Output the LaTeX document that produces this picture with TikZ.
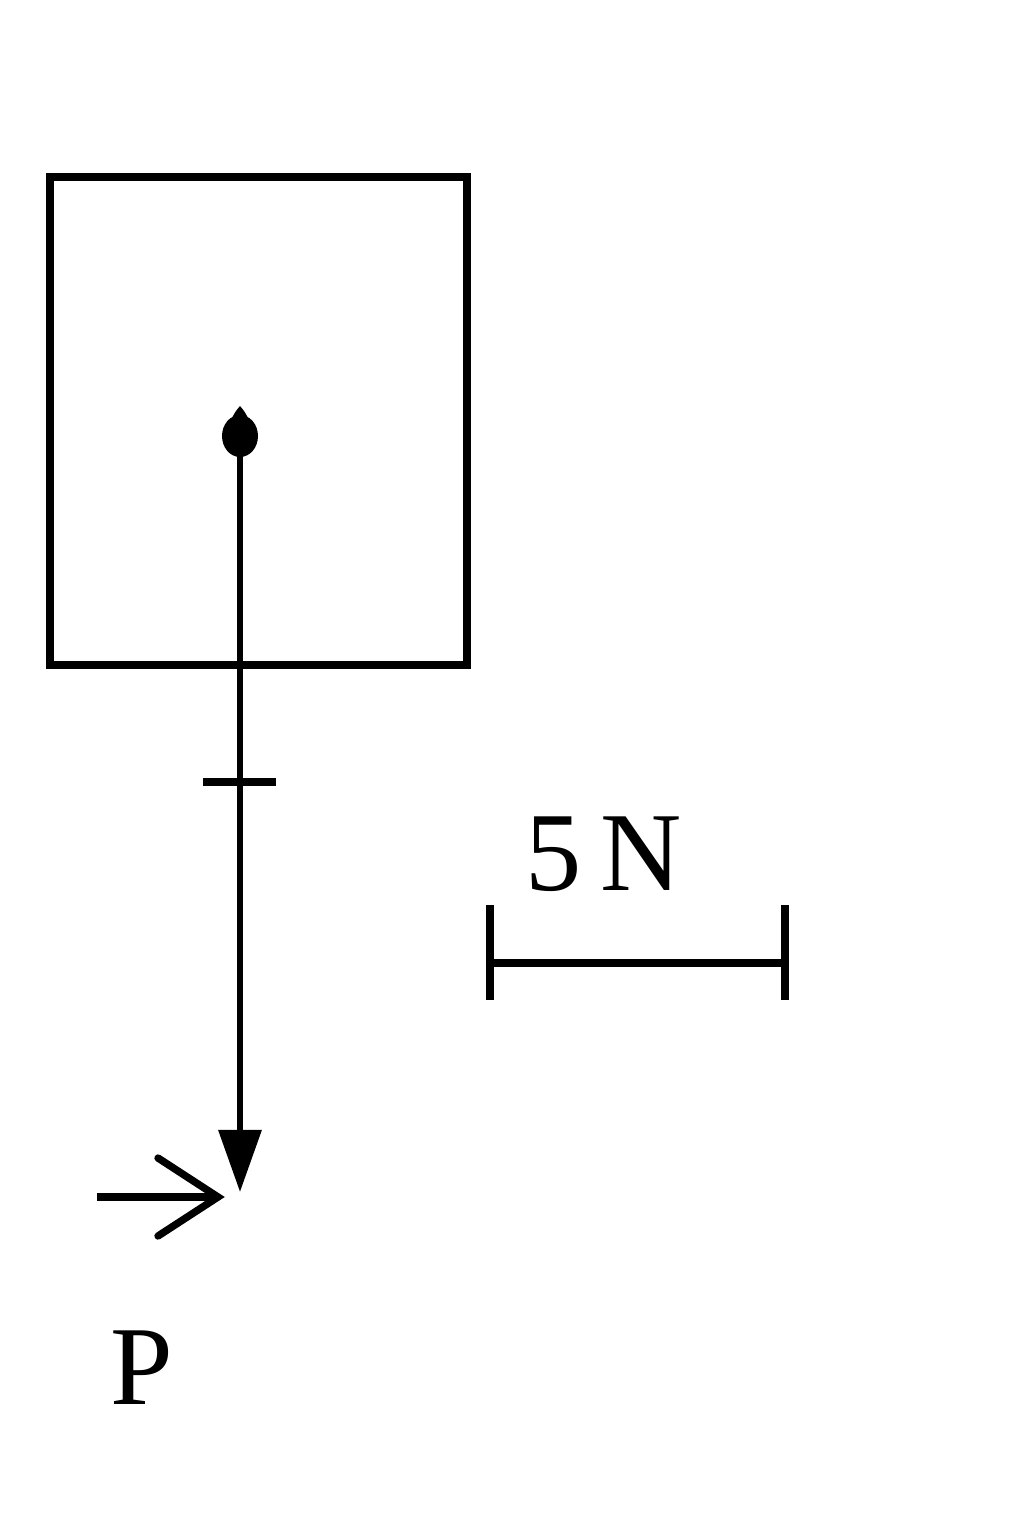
\documentclass[tikz,border=0pt]{standalone}
\usepackage{fontspec}
\setmainfont{Liberation Serif}
\usetikzlibrary{arrows.meta}
\begin{document}
\begin{tikzpicture}[x=0.01cm,y=-0.01cm,
  frame/.style={line width=2.1pt},
  force/.style={line width=1.8pt,-{Triangle[width=0.42cm,length=0.62cm]}},
  tickline/.style={line width=2pt},
  barline/.style={line width=2.1pt},
  lbl/.style={font=\fontsize{32}{38}\selectfont, inner sep=0pt}]
\useasboundingbox (0,0) rectangle (1024,1539);
\draw[frame] (50,177) rectangle (467,665);
% point of application
\coordinate (A) at (240,434);
\coordinate (B) at (240,1192);
\fill (240,436) ellipse [x radius=18, y radius=21];
\fill (230,422) .. controls (235,412) .. (240,406) .. controls (245,412) .. (250,422) -- cycle;
\draw[force] (A) -- (B);
% tick on force line
\coordinate (T1) at (203,782);
\coordinate (T2) at (276,782);
\draw[tickline] (T1) -- (T2);
% scale bar
\coordinate (S1) at (490,963);
\coordinate (S2) at (785,963);
\draw[barline] (S1) -- (S2);
\draw[barline] (490,905) -- (490,1000);
\draw[barline] (785,905) -- (785,1000);
\node[lbl] (scale) at (604,854) {5\,N};
% point P
\coordinate (P1) at (97,1197);
\coordinate (P2) at (218,1197);
\draw[line width=2.1pt] (P1) -- (P2);
\draw[line width=2.1pt, line cap=round, line join=miter] (158,1158) -- (P2) -- (158,1236);
\node[lbl] (P) at (142,1368) {P};
\end{tikzpicture}
\end{document}
